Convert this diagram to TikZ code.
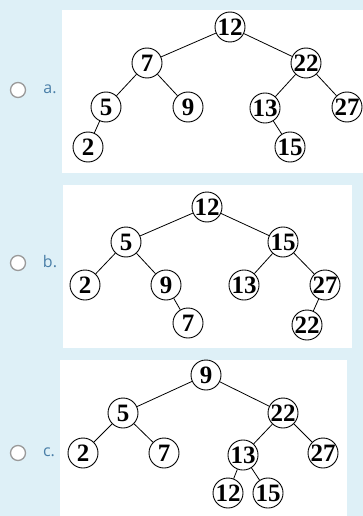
\documentclass[tikz,border=0pt]{standalone}
\usepackage{fontspec}
\setmainfont{Liberation Serif}
\newfontfamily\labfont{Open Sans}
\definecolor{bgblue}{HTML}{DEF0F7}
\definecolor{labblue}{HTML}{4A7FA8}
\definecolor{radiogray}{HTML}{9A9A9A}
\begin{document}
\begin{tikzpicture}[x=1pt,y=-1pt,
  tn/.style={draw=black,circle,fill=white,line width=0.9pt,minimum size=30pt,inner sep=0pt,
    font=\fontsize{25}{25}\selectfont\bfseries},
  edge/.style={draw=black,line width=0.8pt},
  radio/.style={draw=radiogray,circle,fill=white,line width=1.3pt,minimum size=15pt,inner sep=0pt},
  lab/.style={text=labblue,font=\labfont\fontsize{16}{16}\selectfont,anchor=center}]
\useasboundingbox (0,0) rectangle (363,516);
\fill[bgblue] (0,0) rectangle (363,516);
% panels
\fill[white] (62,10) rectangle (363,173);
\fill[white] (63,185) rectangle (352,348);
\fill[white] (60,360) rectangle (347,516);
% radio buttons and labels
\node[radio] (ra) at (18,90) {};
\node[lab] (la) at (50,89) {a.};
\node[radio] (rb) at (18,263) {};
\node[lab] (lb) at (50,262) {b.};
\node[radio] (rc) at (18,453) {};
\node[lab] (lc) at (49,452) {c.};
% tree a
\node[tn] (a12) at (230,27) {12};
\node[tn] (a7) at (147,63) {7};
\node[tn] (a22) at (306,63) {22};
\node[tn] (a5) at (106,107) {5};
\node[tn] (a9) at (188,107) {9};
\node[tn] (a13) at (265,108) {13};
\node[tn] (a27) at (347,107) {27};
\node[tn] (a2) at (88,147) {2};
\node[tn] (a15) at (290,147) {15};
\draw[edge] (a12) -- (a7);
\draw[edge] (a12) -- (a22);
\draw[edge] (a7) -- (a5);
\draw[edge] (a7) -- (a9);
\draw[edge] (a22) -- (a13);
\draw[edge] (a22) -- (a27);
\draw[edge] (a5) -- (a2);
\draw[edge] (a13) -- (a15);
% tree b
\node[tn] (b12) at (207,207) {12};
\node[tn] (b5) at (126,242) {5};
\node[tn] (b15) at (283,242) {15};
\node[tn] (b2) at (85,285) {2};
\node[tn] (b9) at (166,285) {9};
\node[tn] (b13) at (244,285) {13};
\node[tn] (b27) at (325,285) {27};
\node[tn] (b7) at (188,323) {7};
\node[tn] (b22) at (307,325) {22};
\draw[edge] (b12) -- (b5);
\draw[edge] (b12) -- (b15);
\draw[edge] (b5) -- (b2);
\draw[edge] (b5) -- (b9);
\draw[edge] (b15) -- (b13);
\draw[edge] (b15) -- (b27);
\draw[edge] (b9) -- (b7);
\draw[edge] (b27) -- (b22);
% tree c
\node[tn] (c9) at (206,375) {9};
\node[tn] (c5) at (123,413) {5};
\node[tn] (c22) at (283,413) {22};
\node[tn] (c2) at (83,453) {2};
\node[tn] (c7) at (164,453) {7};
\node[tn] (c13) at (243,455) {13};
\node[tn] (c27) at (323,453) {27};
\node[tn] (c12) at (228,493) {12};
\node[tn] (c15) at (268,493) {15};
\draw[edge] (c9) -- (c5);
\draw[edge] (c9) -- (c22);
\draw[edge] (c5) -- (c2);
\draw[edge] (c5) -- (c7);
\draw[edge] (c22) -- (c13);
\draw[edge] (c22) -- (c27);
\draw[edge] (c13) -- (c12);
\draw[edge] (c13) -- (c15);
\end{tikzpicture}
\end{document}
